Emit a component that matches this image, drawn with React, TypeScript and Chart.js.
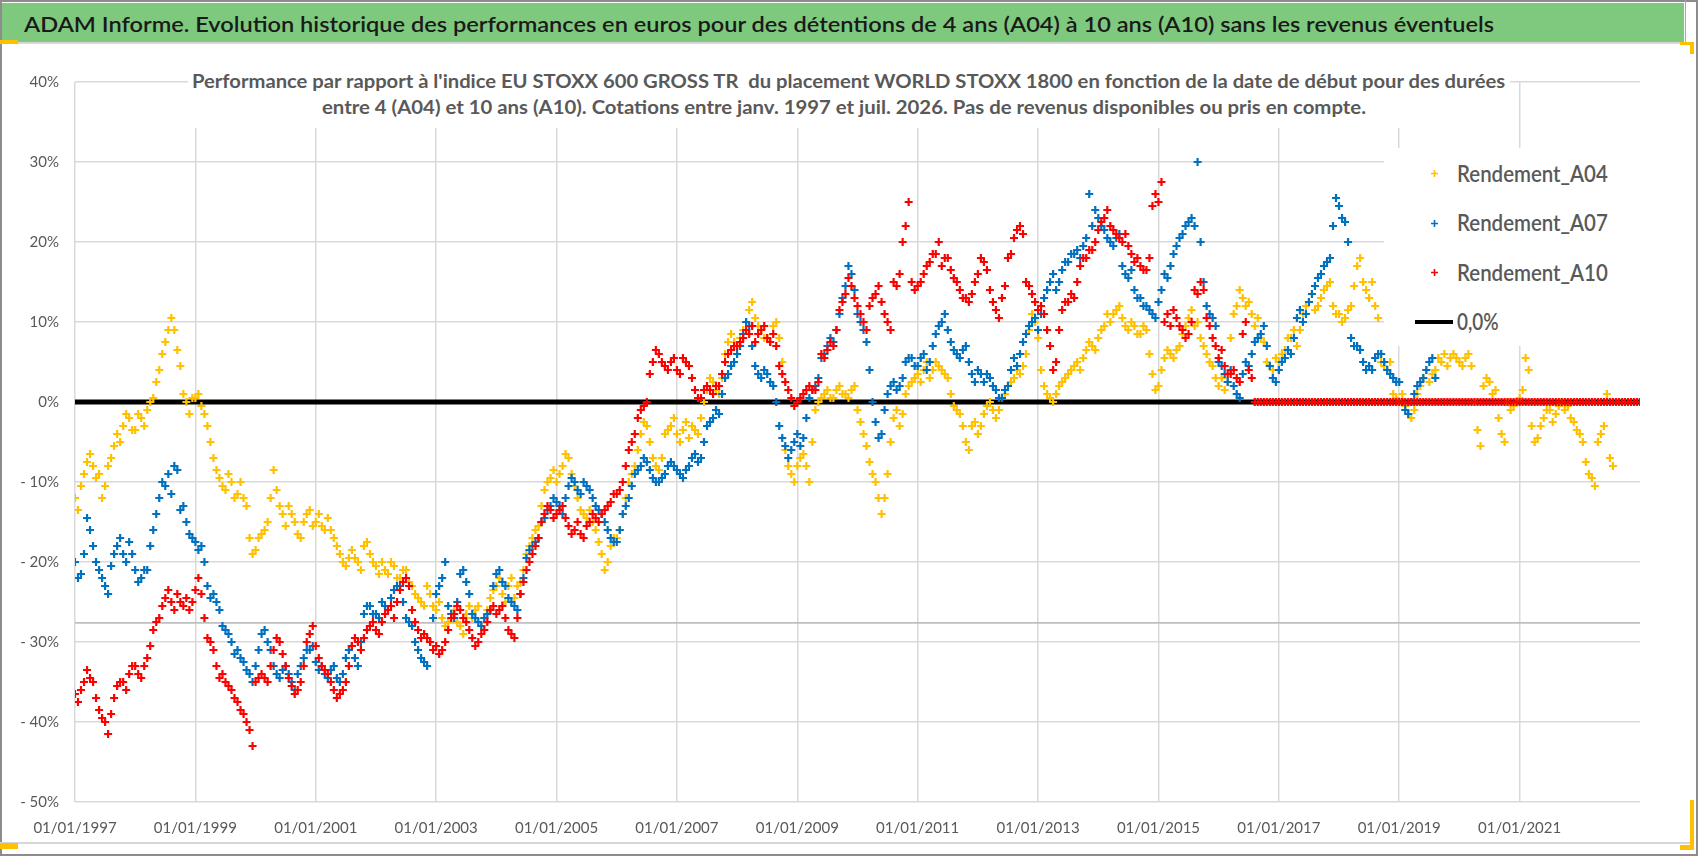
import { useEffect, useLayoutEffect, useRef, useState } from 'react'
import { Chart, registerables } from 'chart.js'

Chart.register(...registerables)

// sampling of the series: one value every 0.05 year from 01/01/1997
const START_YEAR = 1997
const STEP = 0.05

const X_MIN = 1997
const X_MAX = 2023
const X_STEP = 2
const Y_MIN = -50
const Y_MAX = 40
const Y_STEP = 10

const SERIES_NAMES = ['Rendement_A04', 'Rendement_A07', 'Rendement_A10']
const ZERO_NAME = '0,0%'

// performance (%) of the 4 year holding, one row per year
const A04 = [
  -12, -13.5, -10.5, -9, -7.5, -6.5, -8, -9.5, -9, -12, -10.5, -8, -7, -5.5, -4, -5, -3, -1.5, -2, -3.5,
  -3.5, -1.5, -2, -3, -1, 0, 0.5, 2.5, 4, 6, 7.5, 9, 10.5, 9, 6.5, 4.5, 1, 0, -1.5, 0.5,
  0.5, 1, -0.5, -1.5, -3, -5, -7, -8.5, -9.5, -10.5, -11, -9, -10, -12, -11.5, -10, -12, -13, -17, -19,
  -18.5, -17, -16.5, -16, -15, -12, -8.5, -11, -13, -14, -15.5, -13, -14, -15, -16.5, -17, -15, -14, -13.5, -15.5,
  -15, -14, -15.5, -16, -14.5, -16, -17, -18, -19, -20, -20.5, -19.5, -18.5, -19.5, -20, -21, -18, -17.5, -19, -20,
  -20.5, -21.5, -20, -21, -21.5, -20, -20.5, -22, -22, -21, -21, -22.5, -23, -24, -24.5, -25, -25.5, -23, -24, -25.5,
  -26, -25, -27, -28, -27.5, -26.5, -26, -27.5, -28, -29, -26.5, -25.5, -27, -26, -25.5, -28, -27, -26, -24.5, -23.5,
  -23, -22, -24, -25, -23, -22, -24.5, -23, -22.5, -21, -19, -18, -17, -16, -15.5, -13, -11, -10, -9.5, -8.5,
  -10, -9, -8, -6.5, -7, -9, -10.5, -12, -13.5, -14, -14.5, -13.5, -15, -16, -17.5, -19, -21, -20, -18, -17,
  -17, -16, -14, -12, -10, -9, -8, -6, -4, -2.5, -3, -5, -7, -8, -8.5, -7, -4, -3.5, -3, -2,
  -4, -5, -3.5, -2.5, -4.5, -3, -3.5, -4, -2, 0, 1.5, 3, 2.5, 1.5, 1, 3, 6, 7.5, 8.5, 7.5,
  7, 8, 9, 10, 11.5, 12.5, 10.5, 9.5, 9, 8, 8, 7.5, 9.5, 10, 8, 5, -6, -8, -9, -10,
  -8, -7, -6.5, -8, -10, -5, -1, 0, 0.5, 1, 1.5, 0.5, 0.5, 1.5, 2, 1, 1, 0.5, 1.5, 2,
  -1, -2.5, -4, -5.5, -7.5, -9, -10, -12, -14, -12, -9, -5, -2, -1, -3, -1.5, 1, 2, 2.5, 3,
  3.5, 2.5, 4, 5, 3, 4, 5, 4.5, 4, 3.5, 3, 1, -0.5, -1, -1.5, -3, -5, -6, -3, -2.5,
  -4, -3, -1.5, -0.5, 0, -1, -2, -1, 0.5, 1, 2, 2.5, 3, 4, 3.5, 4.5, 6, 9, 11, 10,
  8, 4, 2, 1, 0.5, 0, 1, 2, 2.5, 3, 3.5, 4, 4.5, 5, 4, 5.5, 6.5, 7.5, 7, 6.5,
  8, 9, 9.5, 11, 10, 11, 11.5, 12, 10.5, 9.5, 9, 10, 9.5, 8.5, 8.5, 9.5, 9, 6, 3.5, 1.5,
  2, 4, 5.5, 6.5, 6, 5.5, 6.5, 7, 8.5, 9.5, 10.5, 11.5, 9.5, 10, 8, 7, 6, 5, 4.5, 3,
  2, 3, 1.5, 2.5, 8, 11, 12, 14, 13, 12, 12.5, 11, 9.5, 10.5, 8, 7.5, 5, 4.5, 4, 5.5,
  5, 6, 6.5, 8, 8, 9, 7, 9, 11, 12, 12.5, 13.5, 11.5, 12, 13, 14, 14.5, 15, 12, 11,
  11, 10, 10.5, 11.5, 12, 14.5, 17, 18, 15, 14, 13, 15, 12, 10.5, 5, 4.5, 4, 5, 1, 0.5,
  0, 1, -0.5, -1.5, -2, -1, 1, 2, 3, 4, 2.5, 3.5, 4, 5.5, 5, 6, 4.5, 5.5, 6, 5.5,
  5, 4.5, 5.5, 6, 4.5, 0, -3.5, -5.5, 2, 3, 2.5, 1, 1.5, -2, -4, -5, 0, -1, -0.5, 0,
  0.5, 1.5, 5.5, 4, -3, -5, -4.5, -3, -2, -1, -1, -2.5, -1.5, -0.5, 0, -1, -0.5, -2, -2.5, -3.5,
  -4, -5, -7.5, -9, -9.5, -10.5, -5, -4, -3, 1, -7, -8,
]

// performance (%) of the 7 year holding
const A07 = [
  -20, -22, -21.5, -19, -14.5, -16, -18, -20, -21, -22, -23, -24, -20.5, -19, -18, -17, -19, -20, -17.5, -19,
  -21, -22.5, -22, -21, -21, -18, -16, -14, -12, -10, -10.5, -9, -11.5, -8, -8.5, -13.5, -13, -15, -16.5, -17,
  -17.5, -18.5, -18, -20, -23, -24.5, -24, -25, -26, -28, -28.5, -29, -30, -31.5, -31, -32, -32.5, -33.5, -34, -35,
  -33, -31, -29, -28.5, -30, -31, -33, -34, -34.5, -33.5, -33, -34, -35, -36, -34, -33, -32, -31, -31, -30.5,
  -32.5, -33.5, -33, -34, -34.5, -33.5, -33, -34.5, -35, -34, -32, -31, -30.5, -32, -33, -30, -26.5, -25.5, -25.5, -26.5,
  -26.5, -27, -25, -25.5, -26, -24.5, -23.5, -23, -23, -25, -27, -27.5, -28, -30, -31, -32, -32.5, -33, -30, -27,
  -24, -23, -22, -20, -25.5, -26.5, -27, -25, -21.5, -21, -22.5, -24, -26.5, -27, -27.5, -28, -27, -26.5, -26, -23,
  -21.5, -21, -22.5, -23, -24.5, -25, -25.5, -26, -24, -22, -19.5, -18.5, -18, -17.5, -17, -15, -14.5, -13.5, -13, -12,
  -12.5, -13, -14, -12, -10.5, -9.5, -10, -11, -11.5, -10, -10.5, -11, -12, -13, -13.5, -14, -15, -16, -17, -17.5,
  -17.5, -16, -14, -13, -12, -10.5, -9, -8.5, -8, -7, -7.5, -8.5, -9.5, -10, -10, -9.5, -9, -8, -7.5, -8,
  -8.5, -9, -9.5, -8.5, -8, -7, -6.5, -7.5, -7, -5, -3, -2.5, -2, -1, -1.5, 1, 3, 3.5, 4.5, 5,
  6, 7, 8.5, 10, 9.5, 7, 4.5, 3.5, 3, 4, 3.5, 2.5, 2, 0, -3, -4.5, -5.5, -7, -6, -5,
  -4, -5.5, -4.5, -2, 0.5, 1.5, 2, 3, 5.5, 6, 7, 8, 7.5, 9, 11, 13, 14.5, 17, 16, 14,
  11, 10, 9, 7.5, 4, 0, -2.5, -4.5, -4, -1, 1, 2, 2.5, 1.5, 2, 3, 5, 5.5, 5.5, 4.5,
  4.5, 5.5, 6, 4, 5, 7, 8.5, 9.5, 10, 11, 9, 7.5, 6.5, 6, 5.5, 6.5, 7, 5, 3.5, 2.5,
  4, 3.5, 2.5, 3.5, 3, 2, 1.5, 0.5, 0.5, 1.5, 2, 4, 5.5, 4.5, 6, 7.5, 8.5, 9.5, 10, 10.5,
  9, 11, 13, 14, 15, 16, 14, 15, 16.5, 17.5, 17.5, 18.5, 18.5, 19, 18, 19.5, 20.5, 26, 22, 24,
  23, 22, 21.5, 20.5, 20, 19.5, 20.5, 21, 17, 16, 15.5, 16.5, 14, 13, 13, 12, 12, 11.5, 11, 10.5,
  12.5, 14, 16, 15.5, 17, 18.5, 19.5, 20.5, 21, 22, 22.5, 23, 22, 30, 20, 15, 12, 11, 10.5, 9.5,
  5, 4.5, 3.5, 2.5, 4, 2, 1, 0.5, 3.5, 5, 4.5, 6, 7.5, 8, 8.5, 9.5, 7, 4.5, 3, 2.5,
  4, 5, 5.5, 6.5, 6, 8, 10.5, 11.5, 10, 11, 12.5, 13.5, 14.5, 15.5, 16, 17, 17.5, 18, 22, 25.5,
  24.5, 23, 22.5, 20, 8, 7, 7, 6.5, 5, 4, 4.5, 4, 5.5, 6, 6, 5, 4, 3.5, 3, 2.5,
  2.5, 0, -1, -1.5, 0, 1, 2, 2.5, 3, 4, 5, 5.5, 3,
]

// performance (%) of the 10 year holding, 0 where the 10 years are not over yet
const A10 = [
  -36.5, -37.5, -36, -35, -33.5, -34.5, -35, -37, -38.5, -39.5, -40, -41.5, -39, -37, -35.5, -35, -35, -36, -34, -33,
  -33, -34, -34.5, -33, -32, -30.5, -28.5, -27.5, -27, -25.5, -24.5, -23.5, -25, -26, -24, -25, -25.5, -24.5, -26, -25,
  -23.5, -22, -24, -27, -29.5, -30, -31, -33, -34.5, -34, -35, -35.5, -36, -37, -37.5, -38.5, -39, -40, -41, -43,
  -35, -34.5, -34, -34.5, -35, -33, -31, -29.5, -30, -31.5, -33, -34.5, -35.5, -36.5, -36, -35, -33, -30, -29, -28,
  -30.5, -32, -33, -33.5, -34, -35, -36, -37, -36.5, -36, -35, -33, -30.5, -29.5, -30, -31, -29.5, -28.5, -28, -27.5,
  -28.5, -29, -27.5, -26.5, -26, -25.5, -27, -25, -23.5, -22.5, -22, -23, -26, -27.5, -28.5, -29.5, -29, -29.5, -30, -31,
  -30.5, -31.5, -31, -30, -28.5, -27, -26.5, -25.5, -26, -27, -27.5, -28.5, -29.5, -30.5, -30, -29, -28.5, -27.5, -26, -25.5,
  -26.5, -26, -25.5, -27, -28.5, -29, -29.5, -27, -24, -22.5, -21, -20, -19, -18, -17, -15, -14, -13, -13.5, -14.5,
  -14, -13.5, -13, -14.5, -15.5, -16.5, -16, -15, -16.5, -17, -15.5, -15, -14, -14.5, -15, -14, -13.5, -13, -12.5, -11.5,
  -11.5, -11, -10, -8, -6, -5, -4, -2, -1, -0.5, 0, 3.5, 5, 6.5, 6, 5, 4.5, 4, 5, 5.5,
  4, 3.5, 5.5, 5, 4.5, 3, 1.5, 0.5, 0.5, 1.5, 2, 1.5, 1, 2, 2, 3.5, 5, 6, 6.5, 7,
  7, 7.5, 8, 9, 8.5, 9.5, 7.5, 8.5, 9, 9.5, 8, 7.5, 8.5, 7, 4.5, 3.5, 2.5, 1.5, 0.5, -0.5,
  0, 0.5, 1, 1.5, 2, 1.5, 1.5, 2.5, 6, 5.5, 6.5, 7.5, 7, 9, 11.5, 12.5, 13.5, 15.5, 14.5, 13,
  12, 11, 10, 9, 12, 13, 13.5, 14.5, 12.5, 11, 10, 9, 15, 14.5, 16, 20, 22, 25, 15, 14,
  14.5, 15, 16, 17, 17.5, 18.5, 18.5, 20, 17, 18, 18, 16.5, 15.5, 15, 14, 13, 13, 12.5, 13.5, 15,
  16, 18, 17.5, 16.5, 14, 12.5, 11.5, 10.5, 13, 14.5, 18, 18.5, 20.5, 21.5, 22, 21, 15, 14.5, 13.5, 12.5,
  11.5, 12, 11, 9, 7, 4, 5, 9, 11.5, 12.5, 12.5, 13.5, 13, 15, 17, 18, 18, 19, 19, 20,
  21.5, 22.5, 23, 24, 22, 21.5, 21, 20.5, 20, 21, 19.5, 18.5, 17.5, 18, 17, 16.5, 16.5, 18, 24.5, 26,
  25, 27.5, 10, 11, 9.5, 11.5, 10.5, 9.5, 9, 8, 8.5, 10, 14, 13.5, 15, 14, 10.5, 9.5, 8, 7,
  5.5, 6.5, 4.5, 3.5, 3.5, 4, 3, 2.5, 8.5, 10, 4, 3, 0, 0, 0, 0, 0, 0, 0, 0,
  0, 0, 0, 0, 0, 0, 0, 0, 0, 0, 0, 0, 0, 0, 0, 0, 0, 0, 0, 0,
  0, 0, 0, 0, 0, 0, 0, 0, 0, 0, 0, 0, 0, 0, 0, 0, 0, 0, 0, 0,
  0, 0, 0, 0, 0, 0, 0, 0, 0, 0, 0, 0, 0, 0, 0, 0, 0, 0, 0, 0,
  0, 0, 0, 0, 0, 0, 0, 0, 0, 0, 0, 0, 0, 0, 0, 0, 0, 0, 0, 0,
  0, 0, 0, 0, 0, 0, 0, 0, 0, 0, 0, 0, 0, 0, 0, 0, 0, 0, 0, 0,
  0, 0, 0, 0, 0, 0, 0, 0, 0, 0, 0, 0, 0, 0, 0, 0, 0, 0, 0, 0,
  0,
]

// reference lines across the whole period
const LINE_X = [1997, 2023]
const ZERO_LINE = [0, 0]
const GUIDE_LINE = [-27.6, -27.6]

const COLORS = ['#ffc000', '#0070c0', '#ff0000']
const TEXT_GREY = '#595959'
const GRID = '#d9d9d9'
const FONT = 'Lato, "Open Sans", sans-serif'

const MAIN_TITLE =
  'ADAM Informe. Evolution historique des performances en euros pour des détentions de 4 ans (A04) à 10 ans (A10) sans les revenus éventuels'
const SUB_TITLE = [
  "Performance par rapport à l'indice EU STOXX 600 GROSS TR  du placement WORLD STOXX 1800 en fonction de la date de début pour des durées",
  'entre 4 (A04) et 10 ans (A10). Cotations entre janv. 1997 et juil. 2026. Pas de revenus disponibles ou pris en compte.',
]

const toPoints = (values: number[]) =>
  values.map((y, i) => ({ x: Math.round((START_YEAR + i * STEP) * 1000) / 1000, y }))

const linePoints = (ys: number[]) => LINE_X.map((x, i) => ({ x, y: ys[i] }))

function pctLabel(v: number) {
  return v < 0 ? `- ${Math.abs(v)}%` : `${v}%`
}

interface FitTextProps {
  text: string
  x: number
  baseline: number
  width: number
  size: number
  weight: number
  color: string
}

// text squeezed or stretched to the width it has in the picture
function FitText({ text, x, baseline, width, size, weight, color }: FitTextProps) {
  const ref = useRef<HTMLSpanElement>(null)
  const [scale, setScale] = useState(1)

  useLayoutEffect(() => {
    const measure = () => {
      const el = ref.current
      if (el && el.offsetWidth) setScale(width / el.offsetWidth)
    }
    measure()
    if (document.fonts) document.fonts.ready.then(measure)
  }, [text, width])

  return (
    <span
      ref={ref}
      style={{
        position: 'absolute',
        left: x,
        top: baseline - size * 0.887,
        fontFamily: FONT,
        fontSize: size,
        fontWeight: weight,
        lineHeight: 1,
        color,
        whiteSpace: 'pre',
        transform: `scaleX(${scale})`,
        transformOrigin: '0 0',
      }}
    >
      {text}
    </span>
  )
}

function Cross({ color }: { color: string }) {
  return (
    <svg width="9" height="9" style={{ display: 'block' }}>
      <path d="M4.5 1V8M1 4.5H8" stroke={color} strokeWidth="1.6" />
    </svg>
  )
}

function box(left: number, top: number, width: number, height: number, background: string) {
  return <div style={{ position: 'absolute', left, top, width, height, background }} />
}

export default function App() {
  const canvasRef = useRef<HTMLCanvasElement>(null)
  const chartRef = useRef<Chart | null>(null)

  useEffect(() => {
    if (!canvasRef.current) return
    const ctx = canvasRef.current.getContext('2d')
    if (!ctx) return
    chartRef.current?.destroy()

    const scatter = (label: string, values: number[], color: string, order: number) => ({
      type: 'scatter' as const,
      label,
      data: toPoints(values),
      pointStyle: 'cross' as const,
      pointRadius: 4,
      pointBorderWidth: 2.2,
      borderColor: color,
      backgroundColor: color,
      showLine: false,
      order,
    })

    chartRef.current = new Chart(ctx, {
      type: 'scatter',
      data: {
        datasets: [
          scatter(SERIES_NAMES[0], A04, COLORS[0], 3),
          scatter(SERIES_NAMES[1], A07, COLORS[1], 2),
          scatter(SERIES_NAMES[2], A10, COLORS[2], 1),
          {
            type: 'line',
            label: ZERO_NAME,
            data: linePoints(ZERO_LINE),
            borderColor: '#000000',
            borderWidth: 5,
            pointRadius: 0,
            order: 4,
          },
          {
            type: 'line',
            label: '',
            data: linePoints(GUIDE_LINE),
            borderColor: '#bfbfbf',
            borderWidth: 1.8,
            pointRadius: 0,
            order: 5,
          },
        ],
      },
      options: {
        animation: false,
        responsive: false,
        events: [],
        layout: { padding: { left: 0, right: 58, top: 82, bottom: 14 } },
        plugins: {
          legend: { display: false },
          tooltip: { enabled: false },
        },
        scales: {
          x: {
            type: 'linear',
            min: X_MIN,
            max: X_MAX,
            afterBuildTicks: (scale) => {
              scale.ticks = scale.ticks.filter((t) => t.value < X_MAX)
            },
            afterFit: (scale) => {
              scale.height = 40
            },
            ticks: {
              stepSize: X_STEP,
              autoSkip: false,
              maxRotation: 0,
              padding: 17,
              color: TEXT_GREY,
              font: { family: FONT, size: 15 },
              callback: (v) => `01/01/${v}`,
            },
            grid: { color: GRID, lineWidth: 1.5, drawTicks: false },
            border: { display: false },
          },
          y: {
            min: Y_MIN,
            max: Y_MAX,
            afterFit: (scale) => {
              scale.width = 75
            },
            ticks: {
              stepSize: Y_STEP,
              padding: 16,
              color: TEXT_GREY,
              font: { family: FONT, size: 15 },
              callback: (v) => pctLabel(Number(v)),
            },
            grid: { color: GRID, lineWidth: 1.5, drawTicks: false },
            border: { display: false },
          },
        },
      },
    })

    return () => {
      chartRef.current?.destroy()
      chartRef.current = null
    }
  }, [])

  const legendBaselines = [182, 231.5, 281]

  return (
    <div
      style={{
        position: 'absolute',
        left: 0,
        top: 0,
        width: 1698,
        height: 856,
        background: '#ffffff',
        overflow: 'hidden',
      }}
    >
      <canvas ref={canvasRef} width={1698} height={856} style={{ position: 'absolute', left: 0, top: 0 }} />

      {/* frame of the sheet */}
      {box(0, 0, 1698, 2, '#8c8c8c')}
      {box(0, 3, 1684, 39, '#7ec97e')}
      {box(1685, 0, 1, 42, '#a6a6a6')}
      {box(0, 42, 1692, 2, '#d6d6d6')}
      {box(0, 0, 2, 856, '#8c8c8c')}
      {box(1696, 0, 2, 856, '#8c8c8c')}
      {box(0, 842, 1692, 2, '#d6d6d6')}
      {box(0, 854, 1698, 2, '#8c8c8c')}
      {box(0, 40, 18, 4, '#ffc000')}
      {box(1680, 42, 14, 3, '#ffc000')}
      {box(1690, 42, 4, 12, '#ffc000')}
      {box(1690, 800, 4, 50, '#ffc000')}
      {box(1680, 845, 14, 5, '#ffc000')}
      {box(0, 843, 18, 6, '#ffc000')}

      <FitText text={MAIN_TITLE} x={24} baseline={32} width={1470} size={21} weight={600} color="#1a1a1a" />

      {/* chart title */}
      {box(188, 52, 1322, 76, '#ffffff')}
      <FitText text={SUB_TITLE[0]} x={192} baseline={88} width={1313} size={19} weight={700} color={TEXT_GREY} />
      <FitText text={SUB_TITLE[1]} x={322} baseline={114} width={1044} size={19} weight={700} color={TEXT_GREY} />

      {/* legend */}
      {box(1384, 148, 262, 198, '#ffffff')}
      {SERIES_NAMES.map((name, i) => (
        <div key={name}>
          <div style={{ position: 'absolute', left: 1430, top: legendBaselines[i] - 13 }}>
            <Cross color={COLORS[i]} />
          </div>
          <FitText text={name} x={1457} baseline={legendBaselines[i]} width={151} size={23} weight={600} color={TEXT_GREY} />
        </div>
      ))}
      {box(1415, 320, 38, 4, '#000000')}
      <FitText text={ZERO_NAME} x={1457} baseline={330.5} width={42} size={23} weight={600} color={TEXT_GREY} />
    </div>
  )
}
